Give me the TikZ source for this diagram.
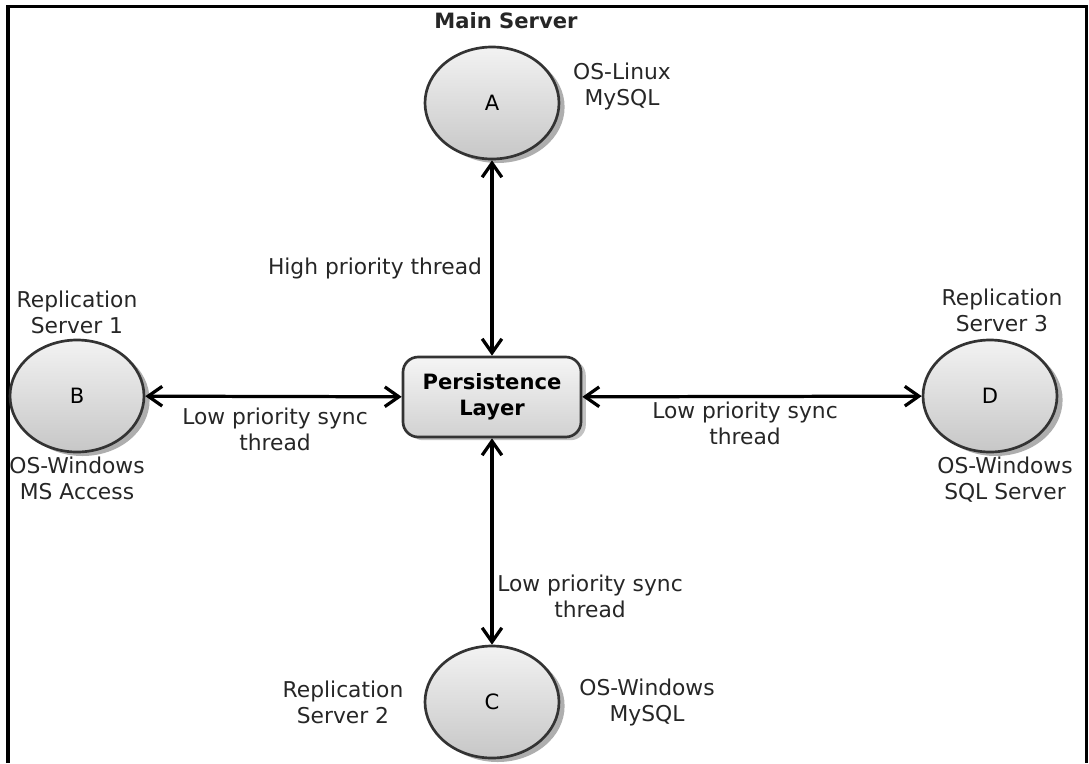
\documentclass[tikz,border=0pt]{standalone}
\usepackage{fontspec}
\setmainfont{DejaVu Sans}
\usepackage{tikz}
\usetikzlibrary{shapes.geometric,shadows,arrows.meta}

\begin{document}
\begin{tikzpicture}[scale=0.25]
\tikzstyle{every node}+=[inner sep=0pt]
\tikzstyle{server}=[ellipse, draw=black!80, line width=1.9pt, minimum width=3.35cm, minimum height=2.8cm,
  top color=black!5, bottom color=black!22, font=\fontsize{15}{18}\selectfont,
  drop shadow={shadow xshift=0.14cm, shadow yshift=-0.1cm, fill=black!45, opacity=0.7}]
\tikzstyle{layer}=[rectangle, rounded corners=0.38cm, draw=black!80, line width=1.9pt,
  minimum width=4.45cm, minimum height=2cm, align=center, top color=black!4, bottom color=black!18,
  font=\fontsize{15}{18.5}\selectfont\bfseries,
  drop shadow={shadow xshift=0.12cm, shadow yshift=-0.08cm, fill=black!40, opacity=0.6}]
\tikzstyle{lbl}=[align=center, text=black!85, font=\fontsize{15.5}{18.5}\selectfont]
\tikzstyle{link}=[line width=2.3pt, {Straight Barb[length=10pt,width=14pt]}-{Straight Barb[length=10pt,width=14pt]}]
\useasboundingbox (0,0) rectangle (108.9,-76.3);
% frame, open at the bottom
\draw [line width=2.2pt] (0.8,-76.3) -- (0.8,-0.65) -- (108.65,-0.65) -- (108.65,-76.3);
% servers and the persistence layer
\node [server] (A) at (49.2,-10.3) {A};
\node [server] (B) at (7.7,-39.6) {B};
\node [server] (C) at (49.2,-70.2) {C};
\node [server] (D) at (99.0,-39.6) {D};
\node [layer] (pl) at (49.2,-39.7) {Persistence\\Layer};
% threads
\draw [link] (A) -- (pl);
\draw [link] (B) -- (pl);
\draw [link] (pl) -- (D);
\draw [link] (pl) -- (C);
% labels
\node [lbl, font=\fontsize{15}{18}\selectfont\bfseries] (mainlbl) at (50.6,-2.1) {Main Server};
\node [lbl] (osA) at (62.2,-8.6) {OS-Linux\\MySQL};
\node [lbl] (thrA) at (37.5,-26.8) {High priority thread};
\node [lbl] (repB) at (7.7,-31.2) {Replication\\Server 1};
\node [lbl] (osB) at (7.7,-47.8) {OS-Windows\\MS Access};
\node [lbl] (thrB) at (27.5,-42.9) {Low priority sync\\thread};
\node [lbl] (repD) at (100.2,-31.0) {Replication\\Server 3};
\node [lbl] (osD) at (100.5,-48.0) {OS-Windows\\SQL Server};
\node [lbl] (thrD) at (74.5,-42.3) {Low priority sync\\thread};
\node [lbl] (thrC) at (59.0,-59.6) {Low priority sync\\thread};
\node [lbl] (repC) at (34.3,-70.2) {Replication\\Server 2};
\node [lbl] (osC) at (64.7,-70.2) {OS-Windows\\MySQL};
\end{tikzpicture}
\end{document}
